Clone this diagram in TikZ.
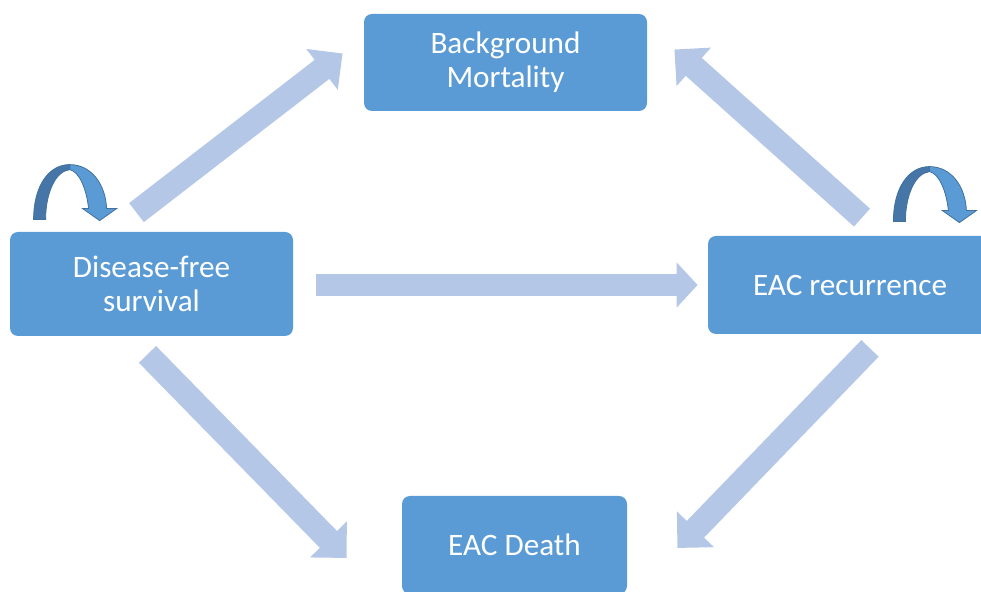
\documentclass[tikz,border=0pt]{standalone}
\usepackage{fontspec}
\setmainfont{Carlito}
\usetikzlibrary{arrows.meta, calc}
\definecolor{boxfill}{RGB}{91, 155, 213}
\definecolor{flowfill}{RGB}{180, 199, 231}
\definecolor{loopdark}{RGB}{70, 118, 168}
\definecolor{loopline}{RGB}{65, 113, 156}
\tikzset{
    state/.style={rectangle, rounded corners=4pt, fill=boxfill, text=white,
        align=center, font=\fontsize{15.6}{17}\selectfont, inner sep=0pt},
    flow/.style={draw=flowfill, line width=12pt,
        -{Triangle[width=25pt, length=13pt]}},
    flowflat/.style={draw=flowfill, line width=11pt,
        -{Triangle[width=22pt, length=10.5pt]}},
    selfloop/.pic={
        % back face of the ribbon
        \filldraw[fill=loopdark, draw=loopline, line width=.4pt]
            (0, 0) .. controls (0, -35) and (16, -55) .. (36, -55)
            -- (36, -50) .. controls (21, -48) and (12, -25) .. (12, 0)
            -- cycle;
        % front face with the head
        \filldraw[fill=boxfill, draw=loopline, line width=.4pt]
            (36, -55) .. controls (58, -55) and (72, -35) .. (73, -11)
            -- (83, -11) -- (66, 1) -- (49, -11) -- (55, -11)
            .. controls (53, -30) and (46, -48) .. (36, -50) -- cycle;
    },
}

\begin{document}
\begin{tikzpicture}[x=.5pt, y=-.5pt]
        \useasboundingbox (0, 0) rectangle (981, 592);

        \node[state, minimum width=141.5pt, minimum height=48.5pt] (bm)
            at (505.5, 62.5) {Background\\Mortality};
        \node[state, minimum width=141.5pt, minimum height=52pt] (dfs)
            at (151.5, 284) {Disease-free\\survival};
        \node[state, minimum width=142pt, minimum height=49pt] (rec)
            at (850, 285) {EAC recurrence};
        \node[state, minimum width=112.5pt, minimum height=49pt] (death)
            at (514.5, 545) {EAC Death};

        % arrow ends
        \coordinate (dfsup) at ([shift={(-15, -19)}]dfs.north);
        \coordinate (dfsdown) at ([shift={(-4, 18)}]dfs.south);
        \coordinate (dfsright) at ([shift={(23, 1)}]dfs.east);
        \coordinate (recup) at ([shift={(12, -18)}]rec.north);
        \coordinate (recdown) at ([shift={(20, 14)}]rec.south);
        \coordinate (recleft) at ([shift={(-10, 0)}]rec.west);
        \coordinate (bmleft) at ([shift={(-21, -9)}]bm.west);
        \coordinate (bmright) at ([shift={(27, -13)}]bm.east);
        \coordinate (deathleft) at ([shift={(-55, 13)}]death.west);
        \coordinate (deathright) at ([shift={(50, 3)}]death.east);

        \draw[flow] (dfsup) -- (bmleft);
        \draw[flow] (recup) -- (bmright);
        \draw[flow] (dfsdown) -- (deathleft);
        \draw[flow] (recdown) -- (deathright);
        \draw[flowflat] (dfsright) -- (recleft);

        \pic at ([shift={(24, -12)}]dfs.north west) {selfloop};
        \pic at ([shift={(-99, -14)}]rec.north east) {selfloop};
    \end{tikzpicture}
\end{document}
